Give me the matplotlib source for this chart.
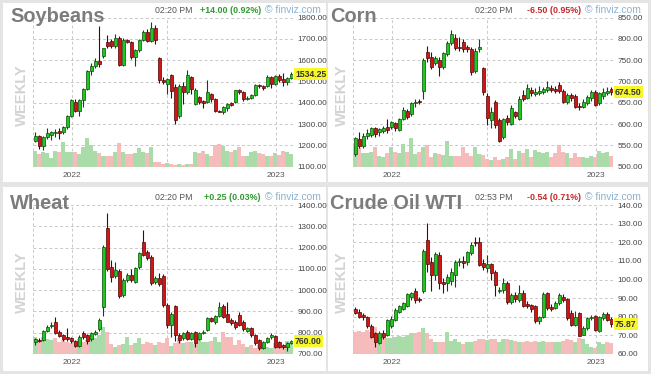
import numpy as np
import matplotlib
matplotlib.use("Agg")
import matplotlib.pyplot as plt
from matplotlib.patches import Rectangle
from matplotlib.transforms import blended_transform_factory

plt.rcParams['font.family'] = ['Liberation Sans', 'DejaVu Sans']

W, H = 651, 374

# ---- weekly OHLC + volume ----
soy_open = [1222, 1245, 1197, 1240, 1250, 1256, 1268, 1262, 1285, 1340,
            1405, 1362, 1415, 1465, 1550, 1575, 1598, 1618, 1684, 1692,
            1668, 1705, 1577, 1695, 1688, 1617, 1648, 1697, 1735, 1690,
            1752, 1612, 1506, 1487, 1530, 1475, 1340, 1480, 1450, 1522,
            1393, 1428, 1408, 1405, 1440, 1420, 1362, 1358, 1375, 1400,
            1406, 1460, 1450, 1420, 1422, 1438, 1482, 1478, 1479, 1520,
            1490, 1525, 1512, 1500, 1515]
soy_high = [1262, 1250, 1245, 1283, 1270, 1275, 1280, 1292, 1345, 1418,
            1418, 1420, 1470, 1555, 1585, 1610, 1760, 1660, 1720, 1700,
            1725, 1712, 1705, 1700, 1692, 1655, 1702, 1740, 1745, 1780,
            1765, 1615, 1520, 1515, 1535, 1490, 1490, 1500, 1555, 1525,
            1470, 1432, 1415, 1505, 1448, 1425, 1365, 1385, 1400, 1405,
            1462, 1465, 1455, 1430, 1442, 1490, 1490, 1482, 1530, 1525,
            1530, 1535, 1540, 1520, 1545]
soy_low = [1215, 1183, 1178, 1232, 1225, 1240, 1228, 1255, 1278, 1335,
           1355, 1340, 1380, 1460, 1530, 1565, 1570, 1612, 1660, 1660,
           1660, 1572, 1575, 1680, 1605, 1575, 1640, 1690, 1685, 1685,
           1675, 1495, 1490, 1440, 1425, 1300, 1330, 1395, 1440, 1440,
           1390, 1395, 1378, 1400, 1405, 1355, 1355, 1348, 1360, 1385,
           1400, 1440, 1410, 1415, 1418, 1432, 1470, 1460, 1475, 1468,
           1485, 1500, 1478, 1482, 1510]
soy_close = [1245, 1197, 1240, 1258, 1262, 1262, 1258, 1285, 1338, 1412,
             1362, 1412, 1465, 1550, 1575, 1598, 1582, 1656, 1666, 1668,
             1705, 1577, 1695, 1688, 1617, 1648, 1697, 1732, 1690, 1750,
             1695, 1507, 1500, 1511, 1456, 1318, 1480, 1450, 1530, 1465,
             1460, 1405, 1400, 1450, 1420, 1360, 1358, 1380, 1395, 1390,
             1460, 1450, 1420, 1425, 1438, 1485, 1478, 1470, 1520, 1490,
             1525, 1505, 1500, 1515, 1534.25]
soy_volume = [48, 38, 43, 41, 25, 48, 43, 73, 45, 43,
              45, 38, 58, 85, 65, 48, 41, 33, 33, 31,
              45, 71, 43, 38, 38, 41, 55, 43, 41, 58,
              13, 13, 8, 11, 8, 6, 8, 6, 8, 7,
              45, 41, 48, 38, 33, 65, 68, 61, 48, 45,
              51, 58, 33, 31, 43, 48, 41, 38, 33, 33,
              41, 35, 48, 45, 38]

corn_open = [531, 566, 549, 572, 574, 590, 581, 584, 594, 594,
             602, 587, 613, 631, 623, 649, 654, 678, 770, 758,
             744, 750, 734, 765, 791, 802, 781, 794, 780, 777,
             725, 776, 731, 666, 610, 651, 610, 570, 615, 600,
             628, 612, 668, 662, 680, 670, 672, 675, 679, 686,
             682, 693, 678, 651, 668, 667, 643, 641, 649, 662,
             676, 649, 666, 672, 683]
corn_high = [570, 582, 578, 588, 594, 594, 592, 596, 612, 608,
             606, 615, 640, 636, 652, 660, 658, 755, 783, 770,
             760, 758, 770, 795, 822, 812, 805, 800, 786, 782,
             778, 800, 735, 672, 640, 656, 615, 615, 622, 645,
             632, 665, 680, 695, 688, 685, 690, 688, 702, 692,
             690, 698, 682, 672, 672, 670, 650, 658, 668, 680,
             680, 676, 685, 688, 688]
corn_low = [525, 545, 545, 565, 570, 570, 572, 580, 580, 588,
            585, 584, 610, 612, 618, 640, 648, 660, 745, 730,
            740, 712, 730, 760, 785, 775, 772, 770, 770, 716,
            720, 770, 668, 598, 590, 590, 558, 565, 598, 598,
            615, 610, 655, 658, 665, 665, 668, 670, 675, 676,
            672, 674, 650, 648, 655, 638, 633, 638, 645, 655,
            642, 645, 660, 668, 668]
corn_close = [567, 548, 573, 578, 590, 576, 588, 590, 586, 604,
              590, 612, 633, 617, 649, 651, 651, 751, 756, 734,
              756, 734, 767, 791, 811, 780, 778, 776, 777, 722,
              772, 782, 676, 614, 629, 598, 560, 612, 604, 637,
              620, 659, 660, 686, 672, 676, 677, 682, 688, 680,
              677, 678, 653, 668, 662, 641, 640, 653, 664, 676,
              646, 672, 676, 678, 674.5]
corn_volume = [62, 55, 42, 42, 45, 60, 32, 30, 40, 60,
               45, 40, 68, 45, 85, 38, 45, 60, 65, 30,
               42, 38, 35, 78, 32, 32, 32, 60, 40, 32,
               60, 38, 35, 22, 20, 30, 20, 22, 28, 52,
               22, 48, 40, 52, 30, 50, 45, 40, 45, 30,
               40, 65, 45, 42, 25, 40, 30, 28, 25, 32,
               30, 48, 42, 45, 32]

wheat_open = [755, 768, 765, 810, 830, 848, 805, 790, 778, 773,
              760, 738, 797, 790, 769, 796, 816, 922, 1290, 1110,
              1066, 1091, 977, 1048, 1070, 1040, 1110, 1228, 1180, 1157,
              1040, 1055, 1065, 930, 836, 925, 790, 775, 805, 770,
              805, 770, 797, 812, 868, 850, 880, 925, 890, 860,
              852, 885, 850, 810, 822, 790, 766, 730, 758, 778,
              786, 755, 740, 735, 752]
wheat_high = [775, 775, 815, 835, 850, 875, 812, 795, 820, 780,
              765, 790, 808, 795, 805, 812, 870, 1210, 1364, 1140,
              1130, 1100, 1055, 1080, 1100, 1110, 1180, 1283, 1190, 1165,
              1065, 1080, 1075, 940, 895, 930, 800, 805, 812, 805,
              810, 802, 812, 875, 872, 885, 945, 935, 945, 868,
              860, 895, 858, 826, 828, 795, 770, 762, 780, 800,
              790, 760, 745, 758, 765]
wheat_low = [740, 755, 760, 805, 822, 792, 778, 762, 762, 752,
             732, 735, 770, 745, 760, 790, 810, 880, 1090, 1040,
             1055, 965, 970, 1040, 1040, 1035, 1100, 1160, 1140, 1025,
             1030, 1020, 920, 820, 780, 760, 750, 768, 765, 765,
             735, 765, 792, 810, 848, 840, 875, 868, 848, 838,
             818, 830, 810, 805, 782, 742, 720, 725, 752, 772,
             730, 728, 722, 712, 745]
wheat_close = [769, 762, 810, 828, 838, 797, 785, 770, 770, 760,
               738, 782, 778, 760, 800, 805, 860, 1204, 1100, 1060,
               1095, 972, 1048, 1071, 1048, 1103, 1173, 1165, 1150, 1032,
               1055, 1030, 930, 836, 888, 790, 766, 800, 770, 800,
               750, 797, 805, 868, 855, 880, 922, 875, 852, 845,
               825, 837, 817, 820, 789, 750, 727, 758, 774, 790,
               735, 735, 735, 750, 760]
wheat_volume = [52, 42, 52, 45, 42, 49, 37, 42, 37, 32,
                37, 45, 37, 42, 49, 47, 57, 82, 67, 29,
                22, 27, 29, 52, 27, 32, 49, 29, 37, 32,
                27, 37, 32, 47, 25, 32, 47, 32, 37, 37,
                29, 52, 37, 37, 39, 52, 37, 67, 52, 52,
                27, 42, 29, 22, 27, 19, 27, 21, 22, 19,
                32, 25, 22, 39, 37]

oil_open = [84.0, 82.7, 80.9, 80.0, 75.0, 71.1, 66.1, 71.4, 70.0, 75.0,
            78.3, 82.7, 84.4, 85.8, 90.5, 94.0, 89.5, 94.0, 121.2, 109.6,
            102.4, 113.2, 98.5, 97.9, 99.4, 102.4, 109.4, 110.1, 109.6, 114.4,
            120.3, 120.3, 108.7, 106.0, 108.1, 104.2, 93.8, 94.4, 98.0, 88.1,
            91.7, 89.0, 93.0, 86.8, 86.3, 85.8, 77.9, 80.0, 93.0, 85.4,
            84.6, 87.2, 90.8, 89.3, 81.8, 75.6, 81.8, 70.2, 73.8, 79.2,
            80.4, 72.5, 79.2, 81.5, 78.6]
oil_high = [85.5, 84.0, 82.0, 80.5, 76.0, 72.0, 72.5, 73.0, 79.0, 80.5,
            84.5, 86.5, 88.0, 93.0, 93.5, 95.5, 90.5, 116.5, 130.2, 112.0,
            115.0, 114.5, 101.0, 103.0, 106.0, 110.5, 111.5, 112.5, 115.5, 120.0,
            123.0, 123.0, 111.0, 113.0, 109.0, 105.0, 96.0, 101.0, 99.0, 93.0,
            93.5, 97.0, 94.5, 88.5, 87.0, 86.5, 80.5, 93.5, 93.5, 87.0,
            88.5, 93.0, 92.0, 90.0, 83.5, 83.0, 82.5, 75.0, 80.0, 81.0,
            81.0, 80.5, 82.7, 82.5, 80.0]
oil_low = [81.5, 79.5, 78.5, 74.0, 68.5, 63.5, 65.5, 68.0, 69.5, 74.0,
           77.5, 82.0, 83.5, 85.0, 89.0, 87.5, 88.0, 93.0, 104.0, 94.0,
           100.0, 95.0, 93.0, 94.0, 97.0, 96.0, 107.0, 106.0, 108.0, 113.0,
           118.0, 107.0, 105.0, 104.0, 100.0, 91.0, 92.5, 93.0, 87.0, 87.0,
           88.0, 88.0, 85.0, 84.5, 82.5, 76.5, 76.0, 79.5, 83.5, 83.0,
           84.0, 86.5, 88.0, 78.5, 75.0, 75.0, 69.5, 70.0, 73.0, 78.0,
           72.5, 72.0, 78.5, 77.5, 74.5]
oil_close = [82.2, 80.0, 79.7, 75.0, 69.3, 66.6, 71.1, 69.3, 78.0, 79.0,
             83.6, 85.8, 87.2, 92.3, 92.6, 89.0, 89.0, 115.5, 108.3, 102.4,
             113.7, 98.3, 97.8, 101.5, 104.2, 109.6, 110.2, 109.0, 114.9, 118.5,
             119.4, 107.8, 106.9, 108.3, 103.7, 97.0, 94.6, 98.0, 88.1, 91.7,
             89.3, 92.6, 85.8, 85.8, 84.0, 77.9, 79.7, 92.3, 84.6, 84.0,
             87.6, 91.7, 89.0, 79.2, 75.6, 80.0, 69.7, 73.8, 79.2, 80.0,
             72.9, 79.7, 81.5, 78.2, 75.87]
oil_volume = [67, 69, 65, 72, 67, 82, 52, 52, 47, 49,
              52, 55, 52, 57, 62, 62, 67, 77, 62, 45,
              37, 35, 37, 67, 39, 45, 37, 29, 37, 35,
              39, 45, 45, 42, 45, 45, 37, 45, 45, 42,
              39, 37, 37, 39, 37, 39, 37, 39, 37, 37,
              35, 35, 39, 45, 42, 37, 47, 45, 29, 22,
              17, 35, 29, 37, 32]

year_ticks = [9.2, 60.2]          # week index where the year starts
year_labels = ['2022', '2023']
vgrid_weeks = [9.2, 33.0, 60.2]

UP_FACE, UP_EDGE = '#1ec81e', '#0c4a0c'
DN_FACE, DN_EDGE = '#d21414', '#4d0505'
VOL_UP, VOL_DN = '#a9dca9', '#f6bcbc'
GRID = '#c9c9c9'


def fx(x):
    return x / W


def fy(y):
    return 1 - y / H


def draw_panel(fig, box, ox, oy, name, o, h, l, c, vol, ylim, step,
               price_fmt, clock, change, change_color):
    o, h, l, c, vol = map(np.asarray, (o, h, l, c, vol))
    x = np.arange(len(o))

    # white card
    fig.add_artist(Rectangle((fx(box[0]), fy(box[3])), fx(box[2] - box[0]),
                             (box[3] - box[1]) / H, transform=fig.transFigure,
                             facecolor='white', edgecolor='none', zorder=0))

    rect = [fx(ox + 33), fy(oy + 166.7), fx(260), 149 / H]
    ax_vol = fig.add_axes(rect)
    ax_vol.bar(x, vol, width=1.0, color=np.where(c >= o, VOL_UP, VOL_DN),
               linewidth=0)
    ax_vol.set_ylim(0, 447)
    ax_vol.set_xlim(-0.55, 64.45)
    ax_vol.axis('off')

    ax = fig.add_axes(rect, sharex=ax_vol)
    ax.patch.set_visible(False)
    up = c >= o
    edge = np.where(up, UP_EDGE, DN_EDGE)
    face = np.where(up, UP_FACE, DN_FACE)
    ax.vlines(x, l, h, colors=edge, linewidth=0.8, zorder=3)
    span = ylim[1] - ylim[0]
    body = np.maximum(np.abs(c - o), span * 0.005)
    ax.bar(x, body, bottom=np.minimum(o, c), width=0.72, color=face,
           edgecolor=edge, linewidth=0.5, zorder=4)

    ax.set_ylim(*ylim)
    ax.set_xlim(-0.55, 64.45)
    yt = np.arange(ylim[0], ylim[1] + step / 2, step)
    ax.set_yticks(yt)
    ax.set_yticklabels([f'{v:.2f}' for v in yt])
    ax.yaxis.tick_right()
    ax.tick_params(axis='y', length=0, pad=3, labelsize=5.9, labelcolor='#444444')
    ax.set_xticks(year_ticks)
    ax.set_xticklabels(year_labels)
    ax.tick_params(axis='x', length=0, pad=3.5, labelsize=6.0, labelcolor='#555555')
    for s in ax.spines.values():
        s.set_visible(False)
    for v in yt:
        ax.axhline(v, color=GRID, linewidth=0.7, dashes=(3, 2.5), zorder=1)
    for v in vgrid_weeks + [-0.55, 64.45]:
        ax.axvline(v, color=GRID, linewidth=0.7, dashes=(3, 2.5), zorder=1)

    # last price tag
    tr = blended_transform_factory(ax.transAxes, ax.transData)
    ax.text(1.008, c[-1], price_fmt.format(c[-1]), transform=tr, ha='left',
            va='center', fontsize=6.2, fontweight='bold', color='#333333',
            zorder=6, bbox=dict(boxstyle='square,pad=0.18', facecolor='#f7f72a',
                                edgecolor='none'))

    # header texts
    fig.text(fx(ox + 10), fy(oy + 21.7), name, fontsize=14.4, fontweight='bold',
             color='#7c7c7c', va='baseline', ha='left')
    fig.text(fx(ox + 21.7), fy(oy + 95), 'WEEKLY', rotation=90, fontsize=10.6,
             fontweight='bold', color='#d3d3d3', ha='center', va='center')
    fig.text(fx(ox + 155), fy(oy + 10.7), clock, fontsize=6.3, color='#555555',
             ha='left', va='center')
    fig.text(fx(ox + 261), fy(oy + 10.7), change, fontsize=6.4, fontweight='bold',
             color=change_color, ha='right', va='center')
    fig.text(fx(ox + 321), fy(oy + 10.2), '\u00a9 finviz.com', fontsize=7.4,
             color='#8fb2cf', ha='right', va='center')


fig = plt.figure(figsize=(W / 100, H / 100), dpi=100, facecolor='#e4e4e4')

GREEN, RED = '#2f9a2f', '#c62a2a'
draw_panel(fig, (3, 3, 326, 182), 0, 0, 'Soybeans',
           soy_open, soy_high, soy_low, soy_close, soy_volume,
           (1100, 1800), 100, '{:.2f}', '02:20 PM', '+14.00 (0.92%)', GREEN)
draw_panel(fig, (328, 3, 648, 182), 320, 0, 'Corn',
           corn_open, corn_high, corn_low, corn_close, corn_volume,
           (500, 850), 50, '{:.2f}', '02:20 PM', '-6.50 (0.95%)', RED)
draw_panel(fig, (3, 187, 326, 371), 0, 187.3, 'Wheat',
           wheat_open, wheat_high, wheat_low, wheat_close, wheat_volume,
           (700, 1400), 100, '{:.2f}', '02:20 PM', '+0.25 (0.03%)', GREEN)
draw_panel(fig, (328, 187, 648, 371), 320, 187.3, 'Crude Oil WTI',
           oil_open, oil_high, oil_low, oil_close, oil_volume,
           (60, 140), 10, '{:.2f}', '02:53 PM', '-0.54 (0.71%)', RED)

fig.savefig('out.png', dpi=100, facecolor=fig.get_facecolor())
